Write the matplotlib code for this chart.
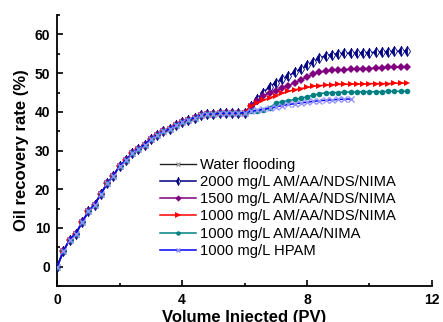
import numpy as np
import matplotlib
matplotlib.use("Agg")
import matplotlib.pyplot as plt
from matplotlib.ticker import MultipleLocator

plt.rcParams['font.family'] = ['Liberation Sans', 'DejaVu Sans']

# Water flooding stage (shared by all runs)
pv_water = [0.0, 0.2, 0.4, 0.6, 0.8, 1.0, 1.2, 1.4, 1.6, 1.8, 2.0, 2.2, 2.4, 2.6, 2.8,
            3.0, 3.2, 3.4, 3.6, 3.8, 4.0, 4.2, 4.4, 4.6, 4.8, 5.0, 5.2, 5.4, 5.6, 5.8, 6.0]
rec_water = [0.0, 4.0, 7.0, 8.5, 11.5, 14.3, 16.0, 18.8, 21.5, 23.5, 26.0, 27.5, 29.3, 30.5, 31.5,
             33.0, 34.0, 35.0, 35.6, 36.6, 37.5, 38.0, 38.5, 39.2, 39.4, 39.5, 39.6, 39.6, 39.7, 39.7, 39.8]

# Polymer flooding stage
pv_poly = [6.2, 6.4, 6.6, 6.8, 7.0, 7.2, 7.4, 7.6, 7.8, 8.0, 8.2, 8.4, 8.6, 8.8, 9.0,
           9.2, 9.4, 9.6, 9.8, 10.0, 10.2, 10.4, 10.6, 10.8, 11.0, 11.2]
rec_2000 = [41.5, 43.2, 45.0, 46.5, 47.5, 48.4, 49.3, 50.2, 51.0, 52.0, 53.0, 53.9, 54.5, 54.8, 55.0,
            55.1, 55.2, 55.2, 55.3, 55.3, 55.4, 55.5, 55.5, 55.6, 55.7, 55.8]
rec_1500 = [41.5, 42.8, 44.0, 45.0, 45.5, 46.2, 46.8, 47.5, 48.3, 49.0, 49.7, 50.3, 50.5, 50.7, 50.8,
            50.9, 51.0, 51.1, 51.2, 51.2, 51.3, 51.4, 51.5, 51.5, 51.6, 51.7]
rec_1000 = [41.5, 42.3, 43.0, 43.6, 44.2, 44.8, 45.3, 45.7, 46.0, 46.3, 46.6, 46.8, 46.9, 47.0, 47.1,
            47.1, 47.2, 47.2, 47.2, 47.3, 47.3, 47.3, 47.3, 47.4, 47.4, 47.4]
rec_nima = [40.2, 40.3, 40.4, 41.0, 42.3, 42.6, 42.9, 43.2, 43.5, 43.9, 44.3, 44.7, 44.9, 45.0, 45.0,
            45.1, 45.1, 45.1, 45.2, 45.2, 45.2, 45.2, 45.3, 45.3, 45.3, 45.3]
pv_hpam = [6.2, 6.4, 6.6, 6.8, 7.0, 7.2, 7.4, 7.6, 7.8, 8.0, 8.2, 8.4, 8.6, 8.8, 9.0, 9.2, 9.4]
rec_hpam = [40.2, 40.4, 40.7, 41.0, 41.3, 41.6, 41.9, 42.1, 42.3, 42.5, 42.7, 42.9, 43.0, 43.1, 43.2, 43.3, 43.3]

labels = ["Water flooding",
          "2000 mg/L AM/AA/NDS/NIMA",
          "1500 mg/L AM/AA/NDS/NIMA",
          "1000 mg/L AM/AA/NDS/NIMA",
          "1000 mg/L AM/AA/NIMA",
          "1000 mg/L HPAM"]

fig = plt.figure(figsize=(4.43, 3.22), dpi=100)
ax = fig.add_axes([0.129, 0.112, 0.846, 0.841])

def full(tail_pv, tail_rec):
    return np.r_[pv_water, tail_pv], np.r_[rec_water, tail_rec]

x, y = full(pv_poly, rec_2000)
ax.plot(x, y, color='#000080', lw=1.1, marker='d', ms=5, fillstyle='left',
        markerfacecoloralt='white', markeredgecolor='#000080', markeredgewidth=0.6,
        label=labels[1], zorder=3)
x, y = full(pv_poly, rec_1500)
ax.plot(x, y, color='#800080', lw=1.1, marker='D', ms=4, markeredgewidth=0,
        label=labels[2], zorder=3)
x, y = full(pv_poly, rec_1000)
ax.plot(x, y, color='#ff0000', lw=1.1, marker='>', ms=5, markeredgewidth=0,
        label=labels[3], zorder=3)
x, y = full(pv_poly, rec_nima)
ax.plot(x, y, color='#008080', lw=1.1, marker='o', ms=4, markeredgewidth=0,
        label=labels[4], zorder=3)
x, y = full(pv_hpam, rec_hpam)
ax.plot(x, y, color='#0000ff', lw=1.1, marker='x', ms=4, markeredgecolor='#9090ff',
        markeredgewidth=1.0, label=labels[5], zorder=4)
ax.plot(pv_water, rec_water, color='#202020', lw=1.0, marker='x', ms=4,
        markeredgecolor='#a0a0a0', markeredgewidth=1.0, label=labels[0], zorder=2)

ax.set_xlim(0, 12)
ax.set_ylim(-5, 65)
ax.xaxis.set_major_locator(MultipleLocator(4))
ax.xaxis.set_minor_locator(MultipleLocator(2))
ax.yaxis.set_major_locator(MultipleLocator(10))
ax.yaxis.set_minor_locator(MultipleLocator(5))
ax.set_yticks([0, 10, 20, 30, 40, 50, 60])
ax.tick_params(which='both', direction='in', width=1.2)
ax.tick_params(which='major', length=4, labelsize=10, pad=5)
ax.tick_params(which='minor', length=2.5)
for lab in ax.get_xticklabels() + ax.get_yticklabels():
    lab.set_fontweight('bold')
for s in ['top', 'right']:
    ax.spines[s].set_visible(False)
for s in ['left', 'bottom']:
    ax.spines[s].set_linewidth(1.3)

ax.set_xlabel('Volume Injected (PV)', fontsize=12, fontweight='bold', labelpad=2)
ax.set_ylabel('Oil recovery rate (%)', fontsize=12, fontweight='bold', labelpad=4)

handles, labs = ax.get_legend_handles_labels()
order = [5, 0, 1, 2, 3, 4]
ax.legend([handles[i] for i in order], [labs[i] for i in order],
          loc='upper left', bbox_to_anchor=(0.26, 0.495), frameon=False,
          fontsize=10.6, handlelength=2.4, handletextpad=0.3, labelspacing=0.22,
          borderaxespad=0, markerscale=0.8)

fig.savefig('out.png', dpi=100)
